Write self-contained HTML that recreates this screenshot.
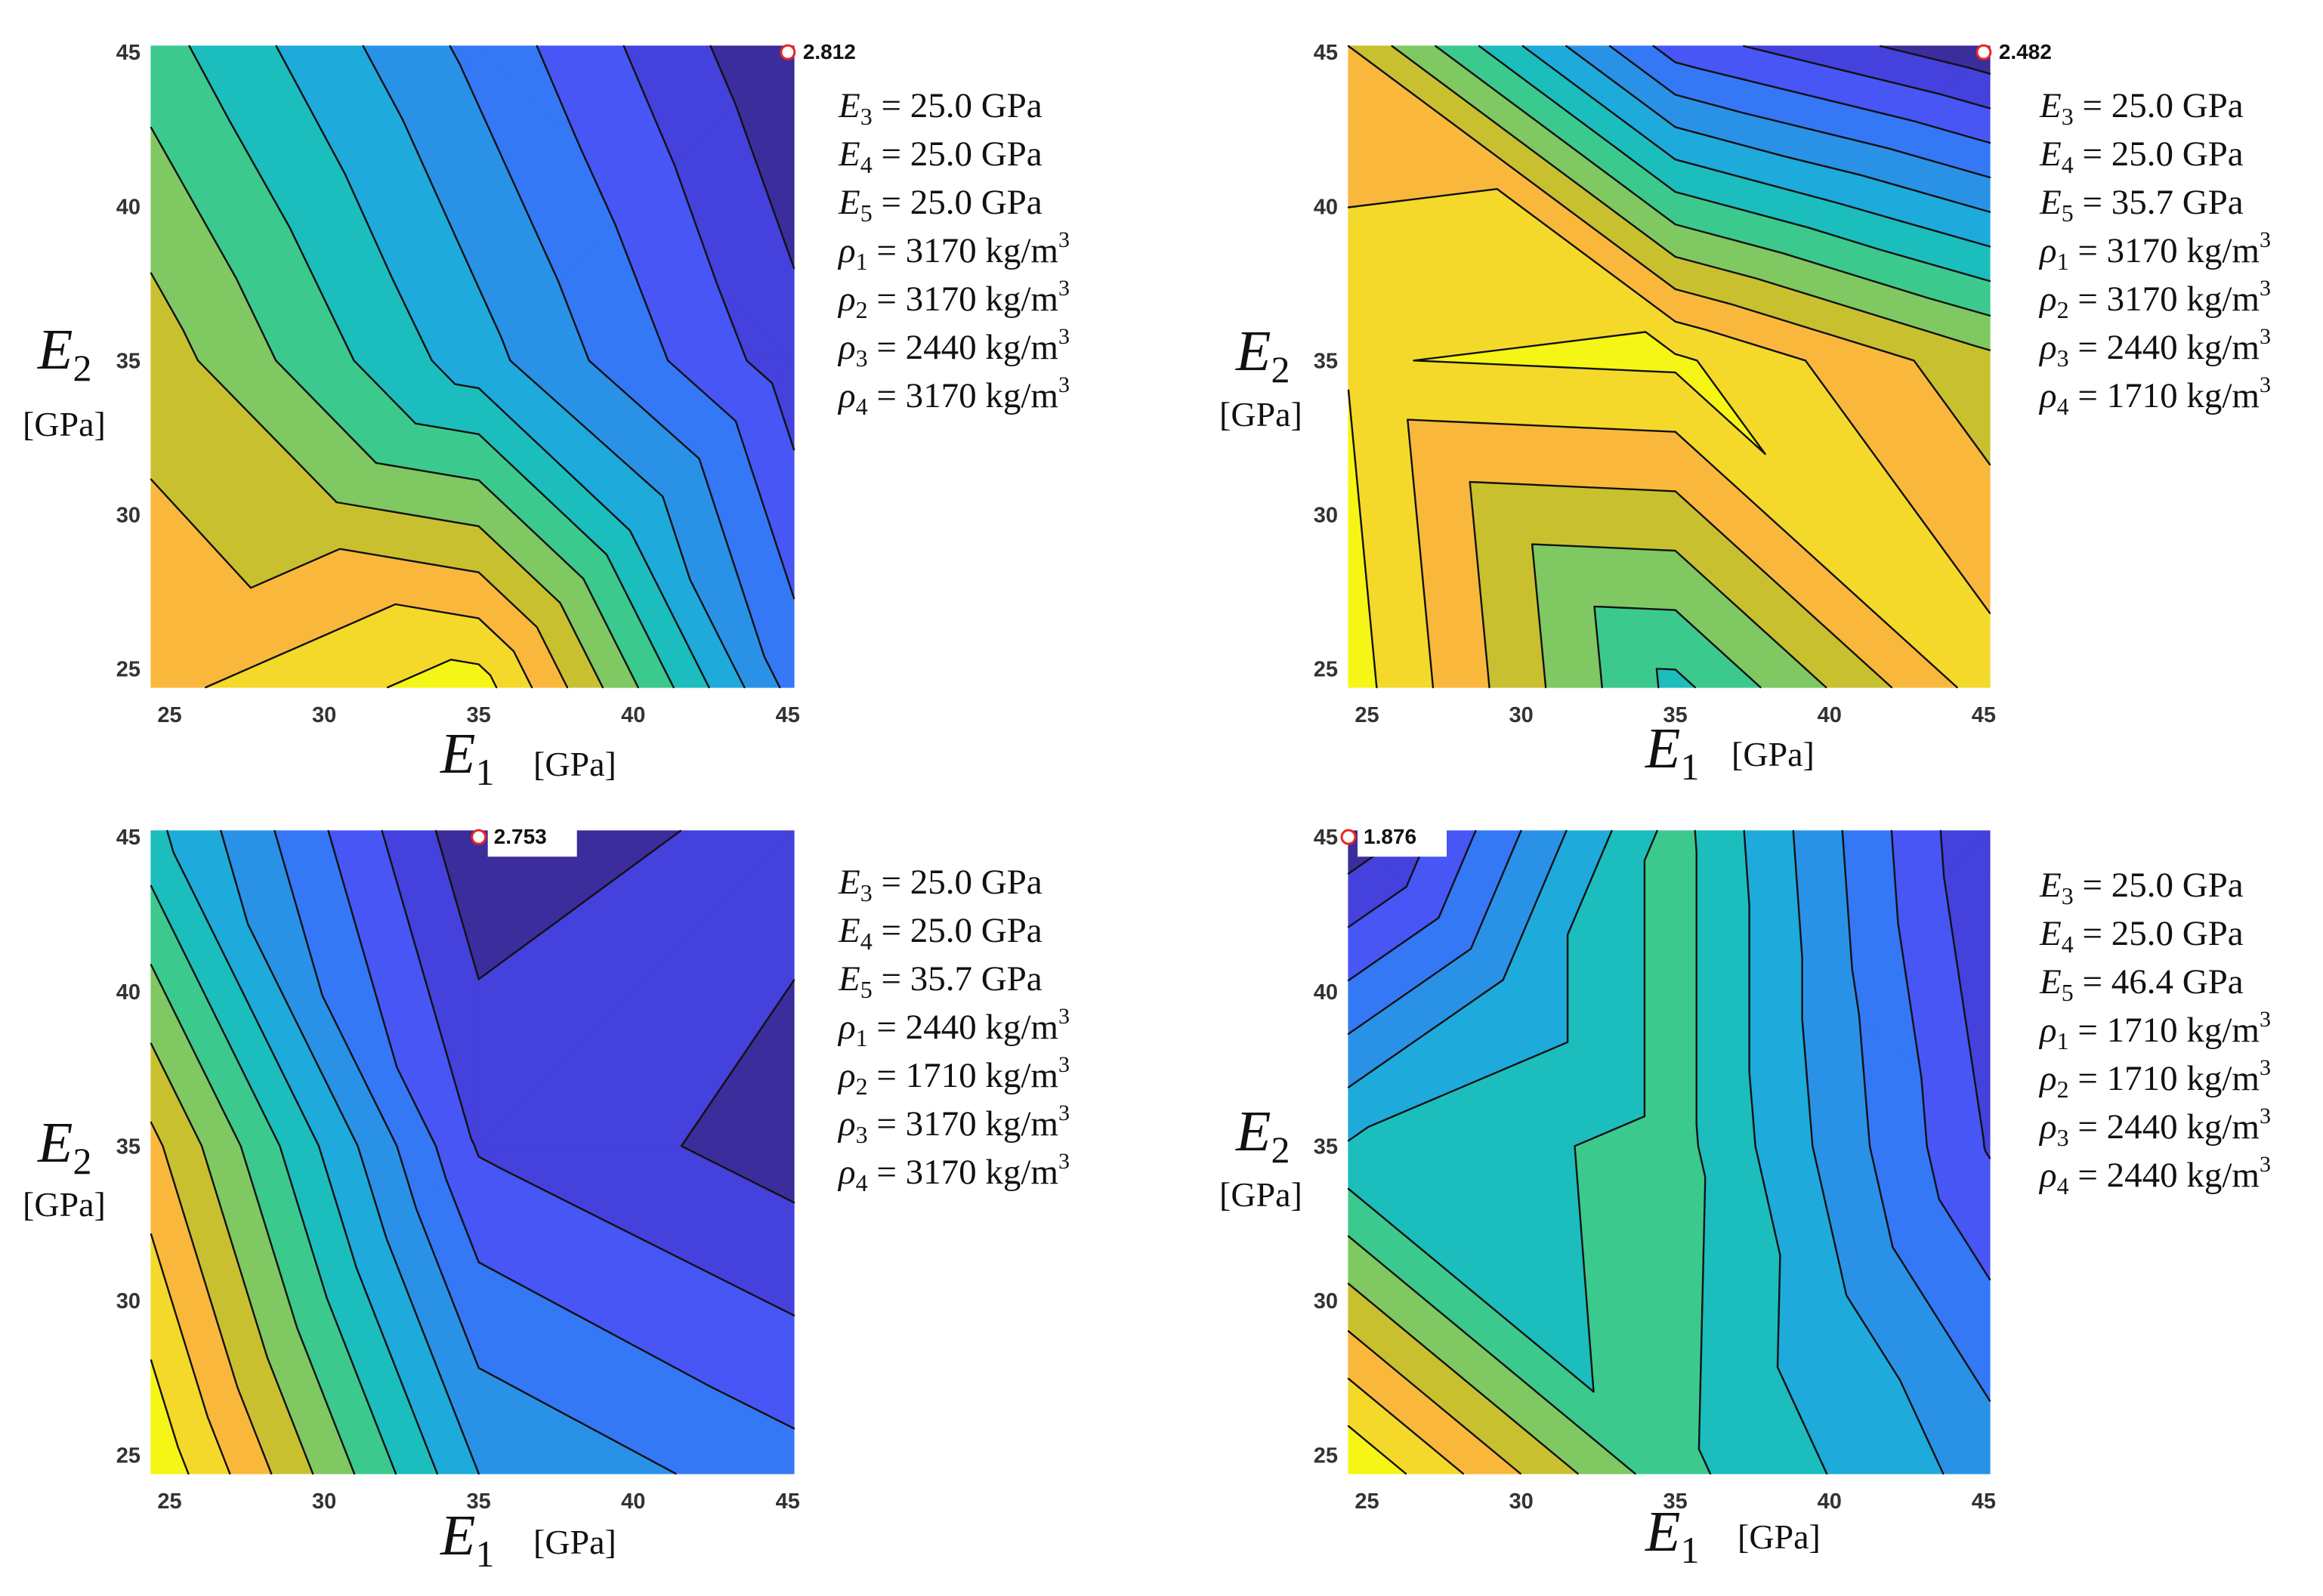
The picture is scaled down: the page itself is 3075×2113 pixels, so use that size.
<!DOCTYPE html>
<html><head><meta charset="utf-8">
<style>
html,body{margin:0;padding:0;background:#fff;}
#wrap{position:relative;width:3075px;height:2113px;overflow:hidden;background:#fff;}
svg{position:absolute;left:0;top:0;}
.ann{position:absolute;font-family:"Liberation Serif",serif;font-size:47px;line-height:64px;color:#111;white-space:nowrap;}
.ann i{font-style:italic;}
.ann sub{font-size:32px;vertical-align:-10px;line-height:0;}
.ann sup{font-size:30px;vertical-align:20px;line-height:0;}
.lab{position:absolute;font-family:"Liberation Serif",serif;color:#111;white-space:nowrap;}
.big{font-size:76px;font-style:italic;}
.big sub{font-size:50px;font-style:normal;vertical-align:-16px;line-height:0;}
.gpa{font-size:46px;}
</style></head>
<body>
<div id="wrap">
<svg id="chart" width="3075" height="2113"></svg>

<div class="ann" style="left:1110px;top:108px">
<div><i>E</i><sub>3</sub> = 25.0 GPa</div><div><i>E</i><sub>4</sub> = 25.0 GPa</div><div><i>E</i><sub>5</sub> = 25.0 GPa</div>
<div><i>ρ</i><sub>1</sub> = 3170 kg/m<sup>3</sup></div><div><i>ρ</i><sub>2</sub> = 3170 kg/m<sup>3</sup></div><div><i>ρ</i><sub>3</sub> = 2440 kg/m<sup>3</sup></div><div><i>ρ</i><sub>4</sub> = 3170 kg/m<sup>3</sup></div></div>
<div class="ann" style="left:2700px;top:108px">
<div><i>E</i><sub>3</sub> = 25.0 GPa</div><div><i>E</i><sub>4</sub> = 25.0 GPa</div><div><i>E</i><sub>5</sub> = 35.7 GPa</div>
<div><i>ρ</i><sub>1</sub> = 3170 kg/m<sup>3</sup></div><div><i>ρ</i><sub>2</sub> = 3170 kg/m<sup>3</sup></div><div><i>ρ</i><sub>3</sub> = 2440 kg/m<sup>3</sup></div><div><i>ρ</i><sub>4</sub> = 1710 kg/m<sup>3</sup></div></div>
<div class="ann" style="left:1110px;top:1136px">
<div><i>E</i><sub>3</sub> = 25.0 GPa</div><div><i>E</i><sub>4</sub> = 25.0 GPa</div><div><i>E</i><sub>5</sub> = 35.7 GPa</div>
<div><i>ρ</i><sub>1</sub> = 2440 kg/m<sup>3</sup></div><div><i>ρ</i><sub>2</sub> = 1710 kg/m<sup>3</sup></div><div><i>ρ</i><sub>3</sub> = 3170 kg/m<sup>3</sup></div><div><i>ρ</i><sub>4</sub> = 3170 kg/m<sup>3</sup></div></div>
<div class="ann" style="left:2700px;top:1140px">
<div><i>E</i><sub>3</sub> = 25.0 GPa</div><div><i>E</i><sub>4</sub> = 25.0 GPa</div><div><i>E</i><sub>5</sub> = 46.4 GPa</div>
<div><i>ρ</i><sub>1</sub> = 1710 kg/m<sup>3</sup></div><div><i>ρ</i><sub>2</sub> = 1710 kg/m<sup>3</sup></div><div><i>ρ</i><sub>3</sub> = 2440 kg/m<sup>3</sup></div><div><i>ρ</i><sub>4</sub> = 2440 kg/m<sup>3</sup></div></div>

<div class="lab big" style="left:583px;top:955px">E<sub>1</sub></div>
<div class="lab gpa" style="left:706px;top:985px">[GPa]</div>
<div class="lab big" style="left:2178px;top:948px">E<sub>1</sub></div>
<div class="lab gpa" style="left:2292px;top:972px">[GPa]</div>
<div class="lab big" style="left:583px;top:1990px">E<sub>1</sub></div>
<div class="lab gpa" style="left:706px;top:2015px">[GPa]</div>
<div class="lab big" style="left:2178px;top:1985px">E<sub>1</sub></div>
<div class="lab gpa" style="left:2300px;top:2008px">[GPa]</div>

<div class="lab big" style="left:50px;top:420px">E<sub>2</sub></div>
<div class="lab gpa" style="left:30px;top:535px">[GPa]</div>
<div class="lab big" style="left:1636px;top:422px">E<sub>2</sub></div>
<div class="lab gpa" style="left:1614px;top:522px">[GPa]</div>
<div class="lab big" style="left:50px;top:1470px">E<sub>2</sub></div>
<div class="lab gpa" style="left:30px;top:1568px">[GPa]</div>
<div class="lab big" style="left:1636px;top:1455px">E<sub>2</sub></div>
<div class="lab gpa" style="left:1614px;top:1555px">[GPa]</div>
</div>

<script>
// ---- data ----
const nodesE1 = [24.4, 35, 45.2];
const nodesE2 = [24.4, 35, 45.2];
const tickValues = [25, 30, 35, 40, 45];
const tickLabels = ["25", "30", "35", "40", "45"];
// rows: E2 = 24.4, 35, 45.2 ; columns: E1 = 24.4, 35, 45.2 (values in contour-level units)
const p1Values = [[10.7, 12.5, 3.6], [9.6, 5.4, 1.4], [7.44, 3.67, 0.04]];
const p2Values = [[12.5, 6.7, 11.5], [11.95, 12.2, 9.3], [10.0, 2.5, 0.2]];
const p3Values = [[12.9, 5.0, 3.4], [10.3, 1.9, 0.5], [6.3, 0.2, 1.45]];
const p4Values = [[13.0, 7.3, 4.6], [6.1, 7.4, 1.9], [0.2, 7.4, 1.0]];
const markerValues = ["2.812", "2.482", "2.753", "1.876"];
const markerE1 = [45, 45, 35, 24.4];
const markerE2 = [45, 45, 45, 45];
const levels = [1, 2, 3, 4, 5, 6, 7, 8, 9, 10, 11, 12];
const bandColors = ["#3b2d9c", "#4441dc", "#4756f5", "#3478f6", "#2a92e6", "#1eaadb", "#1cbdbd", "#3cc98e", "#7fc862", "#c9c030", "#f9b83c", "#f4d92a", "#f5f516"];

// cell split modes [BL, BR, TL, TR]: A = BL-TR diagonal, B = TL-BR diagonal, Q = 4 triangles
const panels = [
  {vals: p1Values, modes: ['Q','Q','Q','Q'], x0: 200, x1: 1051, y0: 61, y1: 910},
  {vals: p2Values, modes: ['B','B','B','Q'], x0: 1785, x1: 2634, y0: 61, y1: 910},
  {vals: p3Values, modes: ['A','B','B','A'], x0: 200, x1: 1051, y0: 1100, y1: 1951},
  {vals: p4Values, modes: ['B','Q','Q','Q'], x0: 1785, x1: 2634, y0: 1100, y1: 1951}
];
const D0 = 24.4, D1 = 45.2;
const NS = "http://www.w3.org/2000/svg";
const svg = document.getElementById('chart');

function mk(tag, attrs, parent) {
  const e = document.createElementNS(NS, tag);
  for (const k in attrs) e.setAttribute(k, attrs[k]);
  (parent || svg).appendChild(e);
  return e;
}
function clip(poly, lv, keepAbove) {
  const out = [];
  for (let i = 0; i < poly.length; i++) {
    const a = poly[i], b = poly[(i + 1) % poly.length];
    const ain = keepAbove ? a.v >= lv : a.v < lv;
    const bin = keepAbove ? b.v >= lv : b.v < lv;
    if (ain) out.push(a);
    if (ain !== bin) {
      const t = (lv - a.v) / (b.v - a.v);
      out.push({x: a.x + t * (b.x - a.x), y: a.y + t * (b.y - a.y), v: lv});
    }
  }
  return out;
}

panels.forEach((P, pi) => {
  const sx = e => P.x0 + (e - D0) / (D1 - D0) * (P.x1 - P.x0);
  const sy = e => P.y1 - (e - D0) / (D1 - D0) * (P.y1 - P.y0);
  const g = mk('g', {});
  
  
  const node = (r, c) => ({x: sx(nodesE1[c]), y: sy(nodesE2[r]), v: P.vals[r][c]});
  const tris = [];
  for (let r = 0; r < nodesE2.length - 1; r++) {
    for (let c = 0; c < nodesE1.length - 1; c++) {
      const A = node(r, c), B = node(r, c + 1), C = node(r + 1, c + 1), Dd = node(r + 1, c);
      const mode = P.modes[r * 2 + c];
      if (mode === 'A') { tris.push([A, B, C], [A, C, Dd]); }
      else if (mode === 'B') { tris.push([A, B, Dd], [B, C, Dd]); }
      else {
        const M = {x: (A.x + C.x) / 2, y: (A.y + C.y) / 2, v: (A.v + B.v + C.v + Dd.v) / 4};
        tris.push([A, B, M], [B, C, M], [C, Dd, M], [Dd, A, M]);
      }
    }
  }
  for (let k = 0; k < bandColors.length; k++) {
    let d = '';
    tris.forEach(t => {
      let p = t;
      if (k > 0) p = clip(p, levels[k - 1], true);
      if (p.length && k < levels.length) p = clip(p, levels[k], false);
      if (p.length >= 3) d += 'M' + p.map(q => q.x.toFixed(1) + ',' + q.y.toFixed(1)).join('L') + 'Z';
    });
    if (d) {
      const path = mk('path', {d: d, fill: bandColors[k], stroke: bandColors[k], 'stroke-width': 1.2, 'stroke-linejoin': 'round'}, g);
      
      
    }
  }
  levels.forEach(lv => {
    let d = '';
    tris.forEach(t => {
      const pts = [];
      for (let i = 0; i < 3; i++) {
        const a = t[i], b = t[(i + 1) % 3];
        if ((a.v < lv) !== (b.v < lv)) {
          const s = (lv - a.v) / (b.v - a.v);
          pts.push([a.x + s * (b.x - a.x), a.y + s * (b.y - a.y)]);
        }
      }
      if (pts.length === 2) d += 'M' + pts[0][0].toFixed(1) + ',' + pts[0][1].toFixed(1) + 'L' + pts[1][0].toFixed(1) + ',' + pts[1][1].toFixed(1);
    });
    if (d) {
      const line = mk('path', {d: d, fill: 'none', stroke: '#111', 'stroke-width': 2.4, 'stroke-linecap': 'round'}, g);
      
      
    }
  });
  tickValues.forEach((tv, i) => {
    const tx = mk('text', {x: sx(tv), y: P.y1 + 46, 'text-anchor': 'middle', 'font-family': 'Liberation Sans, sans-serif', 'font-weight': 'bold', 'font-size': 29, fill: '#333'});
    tx.textContent = tickLabels[i];
    
    
    const ty = mk('text', {x: P.x0 - 14, y: sy(tv) + 10, 'text-anchor': 'end', 'font-family': 'Liberation Sans, sans-serif', 'font-weight': 'bold', 'font-size': 29, fill: '#333'});
    ty.textContent = tickLabels[i];
    
    
  });
  const mx = sx(markerE1[pi]), my = sy(markerE2[pi]);
  if (pi >= 2) {
    const bx = mk('rect', {x: mx + 12, y: my - 14, width: 118, height: 40, fill: '#fff'});
    
    
  }
  const mc = mk('circle', {cx: mx, cy: my, r: 9, fill: '#fff', stroke: '#e22', 'stroke-width': 3});
  
  
  const mt = mk('text', {x: mx + 20, y: my + 9, 'font-family': 'Liberation Sans, sans-serif', 'font-weight': 'bold', 'font-size': 28, fill: '#111'});
  mt.textContent = markerValues[pi];
  
  
});
</script>
</body></html>
